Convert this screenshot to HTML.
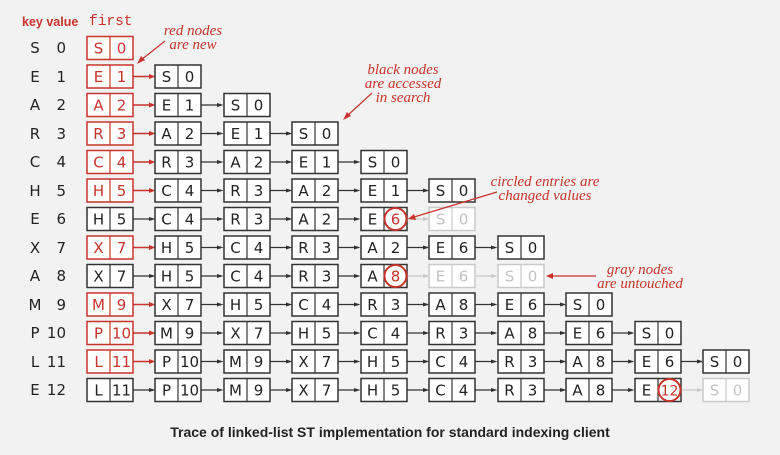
<!DOCTYPE html>
<html><head><meta charset="utf-8"><style>
html,body{margin:0;padding:0;background:#f2f2f2}
svg{display:block}
text{font-family:"DejaVu Sans","Liberation Sans",sans-serif;font-size:15px}
.n rect{fill:#fff;stroke:#333;stroke-width:1.5}
.n line{stroke:#333;stroke-width:1.2}
.n text{fill:#222;text-anchor:middle}
.r rect,.r line{stroke:#c8332b}
.r text{fill:#c8332b}
.g rect,.g line{stroke:#c9c9c9}
.g text{fill:#c2c2c2}
.ab{stroke:#333;stroke-width:1.3}.ab+polygon{fill:#333}
.ar{stroke:#c8332b;stroke-width:1.5}.ar+polygon{fill:#c8332b}
.ag{stroke:#c9c9c9;stroke-width:1.3}.ag+polygon{fill:#c9c9c9}
.lab{fill:#222}
.ann{font-family:"Liberation Serif",serif;font-style:italic;fill:#c8332b;font-size:15px;text-anchor:middle}
</style></head><body>
<svg width="780" height="455" viewBox="0 0 780 455">
<defs>
<g id="ab"><line class="ab" x1="46" y1="11.5" x2="63" y2="11.5"/><polygon points="68.5,11.5 62,9.5 62,13.5"/></g>
<g id="ar"><line class="ar" x1="46" y1="11.5" x2="63" y2="11.5"/><polygon points="68.5,11.5 62,9 62,14"/></g>
<g id="ag"><line class="ag" x1="46" y1="11.5" x2="63" y2="11.5"/><polygon points="68.5,11.5 62,9.5 62,13.5"/></g>
</defs>
<text x="22" y="26" style="font-family:'Liberation Sans',sans-serif;font-weight:bold;font-size:12.5px;fill:#c8332b">key value</text>
<text x="89" y="25" style="font-family:'Liberation Mono',monospace;font-size:14.5px;fill:#c8332b">first</text>

<g class="lab">
<text x="35" y="53" text-anchor="middle">S</text><text x="66" y="53" text-anchor="end">0</text>
<text x="35" y="82" text-anchor="middle">E</text><text x="66" y="82" text-anchor="end">1</text>
<text x="35" y="110" text-anchor="middle">A</text><text x="66" y="110" text-anchor="end">2</text>
<text x="35" y="139" text-anchor="middle">R</text><text x="66" y="139" text-anchor="end">3</text>
<text x="35" y="167" text-anchor="middle">C</text><text x="66" y="167" text-anchor="end">4</text>
<text x="35" y="196" text-anchor="middle">H</text><text x="66" y="196" text-anchor="end">5</text>
<text x="35" y="224" text-anchor="middle">E</text><text x="66" y="224" text-anchor="end">6</text>
<text x="35" y="253" text-anchor="middle">X</text><text x="66" y="253" text-anchor="end">7</text>
<text x="35" y="281" text-anchor="middle">A</text><text x="66" y="281" text-anchor="end">8</text>
<text x="35" y="310" text-anchor="middle">M</text><text x="66" y="310" text-anchor="end">9</text>
<text x="35" y="338" text-anchor="middle">P</text><text x="66" y="338" text-anchor="end">10</text>
<text x="35" y="367" text-anchor="middle">L</text><text x="66" y="367" text-anchor="end">11</text>
<text x="35" y="395" text-anchor="middle">E</text><text x="66" y="395" text-anchor="end">12</text>
</g>

<!-- row 0 -->
<g class="n r" transform="translate(87,36.5)"><rect width="46" height="23"/><line x1="23" y1="0" x2="23" y2="23"/><text x="11.5" y="17">S</text><text x="34.5" y="17">0</text></g>
<!-- row 1 -->
<g transform="translate(87,65)"><use href="#ar"/></g>
<g class="n r" transform="translate(87,65)"><rect width="46" height="23"/><line x1="23" y1="0" x2="23" y2="23"/><text x="11.5" y="17">E</text><text x="34.5" y="17">1</text></g>
<g class="n" transform="translate(155,65)"><rect width="46" height="23"/><line x1="23" y1="0" x2="23" y2="23"/><text x="11.5" y="17">S</text><text x="34.5" y="17">0</text></g>
<!-- row 2 -->
<g transform="translate(87,93.5)"><use href="#ar"/></g><g transform="translate(155,93.5)"><use href="#ab"/></g>
<g class="n r" transform="translate(87,93.5)"><rect width="46" height="23"/><line x1="23" y1="0" x2="23" y2="23"/><text x="11.5" y="17">A</text><text x="34.5" y="17">2</text></g>
<g class="n" transform="translate(155,93.5)"><rect width="46" height="23"/><line x1="23" y1="0" x2="23" y2="23"/><text x="11.5" y="17">E</text><text x="34.5" y="17">1</text></g>
<g class="n" transform="translate(224,93.5)"><rect width="46" height="23"/><line x1="23" y1="0" x2="23" y2="23"/><text x="11.5" y="17">S</text><text x="34.5" y="17">0</text></g>
<!-- row 3 -->
<g transform="translate(87,122)"><use href="#ar"/></g><g transform="translate(155,122)"><use href="#ab"/></g><g transform="translate(224,122)"><use href="#ab"/></g>
<g class="n r" transform="translate(87,122)"><rect width="46" height="23"/><line x1="23" y1="0" x2="23" y2="23"/><text x="11.5" y="17">R</text><text x="34.5" y="17">3</text></g>
<g class="n" transform="translate(155,122)"><rect width="46" height="23"/><line x1="23" y1="0" x2="23" y2="23"/><text x="11.5" y="17">A</text><text x="34.5" y="17">2</text></g>
<g class="n" transform="translate(224,122)"><rect width="46" height="23"/><line x1="23" y1="0" x2="23" y2="23"/><text x="11.5" y="17">E</text><text x="34.5" y="17">1</text></g>
<g class="n" transform="translate(292,122)"><rect width="46" height="23"/><line x1="23" y1="0" x2="23" y2="23"/><text x="11.5" y="17">S</text><text x="34.5" y="17">0</text></g>
<!-- row 4 -->
<g transform="translate(87,150.5)"><use href="#ar"/></g><g transform="translate(155,150.5)"><use href="#ab"/></g><g transform="translate(224,150.5)"><use href="#ab"/></g><g transform="translate(292,150.5)"><use href="#ab"/></g>
<g class="n r" transform="translate(87,150.5)"><rect width="46" height="23"/><line x1="23" y1="0" x2="23" y2="23"/><text x="11.5" y="17">C</text><text x="34.5" y="17">4</text></g>
<g class="n" transform="translate(155,150.5)"><rect width="46" height="23"/><line x1="23" y1="0" x2="23" y2="23"/><text x="11.5" y="17">R</text><text x="34.5" y="17">3</text></g>
<g class="n" transform="translate(224,150.5)"><rect width="46" height="23"/><line x1="23" y1="0" x2="23" y2="23"/><text x="11.5" y="17">A</text><text x="34.5" y="17">2</text></g>
<g class="n" transform="translate(292,150.5)"><rect width="46" height="23"/><line x1="23" y1="0" x2="23" y2="23"/><text x="11.5" y="17">E</text><text x="34.5" y="17">1</text></g>
<g class="n" transform="translate(361,150.5)"><rect width="46" height="23"/><line x1="23" y1="0" x2="23" y2="23"/><text x="11.5" y="17">S</text><text x="34.5" y="17">0</text></g>
<!-- row 5 -->
<g transform="translate(87,179)"><use href="#ar"/></g><g transform="translate(155,179)"><use href="#ab"/></g><g transform="translate(224,179)"><use href="#ab"/></g><g transform="translate(292,179)"><use href="#ab"/></g><g transform="translate(361,179)"><use href="#ab"/></g>
<g class="n r" transform="translate(87,179)"><rect width="46" height="23"/><line x1="23" y1="0" x2="23" y2="23"/><text x="11.5" y="17">H</text><text x="34.5" y="17">5</text></g>
<g class="n" transform="translate(155,179)"><rect width="46" height="23"/><line x1="23" y1="0" x2="23" y2="23"/><text x="11.5" y="17">C</text><text x="34.5" y="17">4</text></g>
<g class="n" transform="translate(224,179)"><rect width="46" height="23"/><line x1="23" y1="0" x2="23" y2="23"/><text x="11.5" y="17">R</text><text x="34.5" y="17">3</text></g>
<g class="n" transform="translate(292,179)"><rect width="46" height="23"/><line x1="23" y1="0" x2="23" y2="23"/><text x="11.5" y="17">A</text><text x="34.5" y="17">2</text></g>
<g class="n" transform="translate(361,179)"><rect width="46" height="23"/><line x1="23" y1="0" x2="23" y2="23"/><text x="11.5" y="17">E</text><text x="34.5" y="17">1</text></g>
<g class="n" transform="translate(429,179)"><rect width="46" height="23"/><line x1="23" y1="0" x2="23" y2="23"/><text x="11.5" y="17">S</text><text x="34.5" y="17">0</text></g>
<!-- row 6 -->
<g transform="translate(87,207.5)"><use href="#ab"/></g><g transform="translate(155,207.5)"><use href="#ab"/></g><g transform="translate(224,207.5)"><use href="#ab"/></g><g transform="translate(292,207.5)"><use href="#ab"/></g><g transform="translate(361,207.5)"><use href="#ag"/></g>
<g class="n" transform="translate(87,207.5)"><rect width="46" height="23"/><line x1="23" y1="0" x2="23" y2="23"/><text x="11.5" y="17">H</text><text x="34.5" y="17">5</text></g>
<g class="n" transform="translate(155,207.5)"><rect width="46" height="23"/><line x1="23" y1="0" x2="23" y2="23"/><text x="11.5" y="17">C</text><text x="34.5" y="17">4</text></g>
<g class="n" transform="translate(224,207.5)"><rect width="46" height="23"/><line x1="23" y1="0" x2="23" y2="23"/><text x="11.5" y="17">R</text><text x="34.5" y="17">3</text></g>
<g class="n" transform="translate(292,207.5)"><rect width="46" height="23"/><line x1="23" y1="0" x2="23" y2="23"/><text x="11.5" y="17">A</text><text x="34.5" y="17">2</text></g>
<g class="n" transform="translate(361,207.5)"><rect width="46" height="23"/><line x1="23" y1="0" x2="23" y2="23"/><text x="11.5" y="17">E</text><circle cx="34.5" cy="11.5" r="11" fill="#fff" stroke="#c8332b" stroke-width="2"/><text x="34.5" y="17" style="fill:#c8332b">6</text></g>
<g class="n g" transform="translate(429,207.5)"><rect width="46" height="23"/><line x1="23" y1="0" x2="23" y2="23"/><text x="11.5" y="17">S</text><text x="34.5" y="17">0</text></g>
<!-- row 7 -->
<g transform="translate(87,236)"><use href="#ar"/></g><g transform="translate(155,236)"><use href="#ab"/></g><g transform="translate(224,236)"><use href="#ab"/></g><g transform="translate(292,236)"><use href="#ab"/></g><g transform="translate(361,236)"><use href="#ab"/></g><g transform="translate(429,236)"><use href="#ab"/></g>
<g class="n r" transform="translate(87,236)"><rect width="46" height="23"/><line x1="23" y1="0" x2="23" y2="23"/><text x="11.5" y="17">X</text><text x="34.5" y="17">7</text></g>
<g class="n" transform="translate(155,236)"><rect width="46" height="23"/><line x1="23" y1="0" x2="23" y2="23"/><text x="11.5" y="17">H</text><text x="34.5" y="17">5</text></g>
<g class="n" transform="translate(224,236)"><rect width="46" height="23"/><line x1="23" y1="0" x2="23" y2="23"/><text x="11.5" y="17">C</text><text x="34.5" y="17">4</text></g>
<g class="n" transform="translate(292,236)"><rect width="46" height="23"/><line x1="23" y1="0" x2="23" y2="23"/><text x="11.5" y="17">R</text><text x="34.5" y="17">3</text></g>
<g class="n" transform="translate(361,236)"><rect width="46" height="23"/><line x1="23" y1="0" x2="23" y2="23"/><text x="11.5" y="17">A</text><text x="34.5" y="17">2</text></g>
<g class="n" transform="translate(429,236)"><rect width="46" height="23"/><line x1="23" y1="0" x2="23" y2="23"/><text x="11.5" y="17">E</text><text x="34.5" y="17">6</text></g>
<g class="n" transform="translate(498,236)"><rect width="46" height="23"/><line x1="23" y1="0" x2="23" y2="23"/><text x="11.5" y="17">S</text><text x="34.5" y="17">0</text></g>
<!-- row 8 -->
<g transform="translate(87,264.5)"><use href="#ab"/></g><g transform="translate(155,264.5)"><use href="#ab"/></g><g transform="translate(224,264.5)"><use href="#ab"/></g><g transform="translate(292,264.5)"><use href="#ab"/></g><g transform="translate(361,264.5)"><use href="#ag"/></g><g transform="translate(429,264.5)"><use href="#ag"/></g>
<g class="n" transform="translate(87,264.5)"><rect width="46" height="23"/><line x1="23" y1="0" x2="23" y2="23"/><text x="11.5" y="17">X</text><text x="34.5" y="17">7</text></g>
<g class="n" transform="translate(155,264.5)"><rect width="46" height="23"/><line x1="23" y1="0" x2="23" y2="23"/><text x="11.5" y="17">H</text><text x="34.5" y="17">5</text></g>
<g class="n" transform="translate(224,264.5)"><rect width="46" height="23"/><line x1="23" y1="0" x2="23" y2="23"/><text x="11.5" y="17">C</text><text x="34.5" y="17">4</text></g>
<g class="n" transform="translate(292,264.5)"><rect width="46" height="23"/><line x1="23" y1="0" x2="23" y2="23"/><text x="11.5" y="17">R</text><text x="34.5" y="17">3</text></g>
<g class="n" transform="translate(361,264.5)"><rect width="46" height="23"/><line x1="23" y1="0" x2="23" y2="23"/><text x="11.5" y="17">A</text><circle cx="34.5" cy="11.5" r="11" fill="#fff" stroke="#c8332b" stroke-width="2"/><text x="34.5" y="17" style="fill:#c8332b">8</text></g>
<g class="n g" transform="translate(429,264.5)"><rect width="46" height="23"/><line x1="23" y1="0" x2="23" y2="23"/><text x="11.5" y="17">E</text><text x="34.5" y="17">6</text></g>
<g class="n g" transform="translate(498,264.5)"><rect width="46" height="23"/><line x1="23" y1="0" x2="23" y2="23"/><text x="11.5" y="17">S</text><text x="34.5" y="17">0</text></g>
<!-- row 9 -->
<g transform="translate(87,293)"><use href="#ar"/></g><g transform="translate(155,293)"><use href="#ab"/></g><g transform="translate(224,293)"><use href="#ab"/></g><g transform="translate(292,293)"><use href="#ab"/></g><g transform="translate(361,293)"><use href="#ab"/></g><g transform="translate(429,293)"><use href="#ab"/></g><g transform="translate(498,293)"><use href="#ab"/></g>
<g class="n r" transform="translate(87,293)"><rect width="46" height="23"/><line x1="23" y1="0" x2="23" y2="23"/><text x="11.5" y="17">M</text><text x="34.5" y="17">9</text></g>
<g class="n" transform="translate(155,293)"><rect width="46" height="23"/><line x1="23" y1="0" x2="23" y2="23"/><text x="11.5" y="17">X</text><text x="34.5" y="17">7</text></g>
<g class="n" transform="translate(224,293)"><rect width="46" height="23"/><line x1="23" y1="0" x2="23" y2="23"/><text x="11.5" y="17">H</text><text x="34.5" y="17">5</text></g>
<g class="n" transform="translate(292,293)"><rect width="46" height="23"/><line x1="23" y1="0" x2="23" y2="23"/><text x="11.5" y="17">C</text><text x="34.5" y="17">4</text></g>
<g class="n" transform="translate(361,293)"><rect width="46" height="23"/><line x1="23" y1="0" x2="23" y2="23"/><text x="11.5" y="17">R</text><text x="34.5" y="17">3</text></g>
<g class="n" transform="translate(429,293)"><rect width="46" height="23"/><line x1="23" y1="0" x2="23" y2="23"/><text x="11.5" y="17">A</text><text x="34.5" y="17">8</text></g>
<g class="n" transform="translate(498,293)"><rect width="46" height="23"/><line x1="23" y1="0" x2="23" y2="23"/><text x="11.5" y="17">E</text><text x="34.5" y="17">6</text></g>
<g class="n" transform="translate(566,293)"><rect width="46" height="23"/><line x1="23" y1="0" x2="23" y2="23"/><text x="11.5" y="17">S</text><text x="34.5" y="17">0</text></g>
<!-- row 10 -->
<g transform="translate(87,321.5)"><use href="#ar"/></g><g transform="translate(155,321.5)"><use href="#ab"/></g><g transform="translate(224,321.5)"><use href="#ab"/></g><g transform="translate(292,321.5)"><use href="#ab"/></g><g transform="translate(361,321.5)"><use href="#ab"/></g><g transform="translate(429,321.5)"><use href="#ab"/></g><g transform="translate(498,321.5)"><use href="#ab"/></g><g transform="translate(566,321.5)"><use href="#ab"/></g>
<g class="n r" transform="translate(87,321.5)"><rect width="46" height="23"/><line x1="23" y1="0" x2="23" y2="23"/><text x="11.5" y="17">P</text><text x="34.5" y="17">10</text></g>
<g class="n" transform="translate(155,321.5)"><rect width="46" height="23"/><line x1="23" y1="0" x2="23" y2="23"/><text x="11.5" y="17">M</text><text x="34.5" y="17">9</text></g>
<g class="n" transform="translate(224,321.5)"><rect width="46" height="23"/><line x1="23" y1="0" x2="23" y2="23"/><text x="11.5" y="17">X</text><text x="34.5" y="17">7</text></g>
<g class="n" transform="translate(292,321.5)"><rect width="46" height="23"/><line x1="23" y1="0" x2="23" y2="23"/><text x="11.5" y="17">H</text><text x="34.5" y="17">5</text></g>
<g class="n" transform="translate(361,321.5)"><rect width="46" height="23"/><line x1="23" y1="0" x2="23" y2="23"/><text x="11.5" y="17">C</text><text x="34.5" y="17">4</text></g>
<g class="n" transform="translate(429,321.5)"><rect width="46" height="23"/><line x1="23" y1="0" x2="23" y2="23"/><text x="11.5" y="17">R</text><text x="34.5" y="17">3</text></g>
<g class="n" transform="translate(498,321.5)"><rect width="46" height="23"/><line x1="23" y1="0" x2="23" y2="23"/><text x="11.5" y="17">A</text><text x="34.5" y="17">8</text></g>
<g class="n" transform="translate(566,321.5)"><rect width="46" height="23"/><line x1="23" y1="0" x2="23" y2="23"/><text x="11.5" y="17">E</text><text x="34.5" y="17">6</text></g>
<g class="n" transform="translate(635,321.5)"><rect width="46" height="23"/><line x1="23" y1="0" x2="23" y2="23"/><text x="11.5" y="17">S</text><text x="34.5" y="17">0</text></g>
<!-- row 11 -->
<g transform="translate(87,350)"><use href="#ar"/></g><g transform="translate(155,350)"><use href="#ab"/></g><g transform="translate(224,350)"><use href="#ab"/></g><g transform="translate(292,350)"><use href="#ab"/></g><g transform="translate(361,350)"><use href="#ab"/></g><g transform="translate(429,350)"><use href="#ab"/></g><g transform="translate(498,350)"><use href="#ab"/></g><g transform="translate(566,350)"><use href="#ab"/></g><g transform="translate(635,350)"><use href="#ab"/></g>
<g class="n r" transform="translate(87,350)"><rect width="46" height="23"/><line x1="23" y1="0" x2="23" y2="23"/><text x="11.5" y="17">L</text><text x="34.5" y="17">11</text></g>
<g class="n" transform="translate(155,350)"><rect width="46" height="23"/><line x1="23" y1="0" x2="23" y2="23"/><text x="11.5" y="17">P</text><text x="34.5" y="17">10</text></g>
<g class="n" transform="translate(224,350)"><rect width="46" height="23"/><line x1="23" y1="0" x2="23" y2="23"/><text x="11.5" y="17">M</text><text x="34.5" y="17">9</text></g>
<g class="n" transform="translate(292,350)"><rect width="46" height="23"/><line x1="23" y1="0" x2="23" y2="23"/><text x="11.5" y="17">X</text><text x="34.5" y="17">7</text></g>
<g class="n" transform="translate(361,350)"><rect width="46" height="23"/><line x1="23" y1="0" x2="23" y2="23"/><text x="11.5" y="17">H</text><text x="34.5" y="17">5</text></g>
<g class="n" transform="translate(429,350)"><rect width="46" height="23"/><line x1="23" y1="0" x2="23" y2="23"/><text x="11.5" y="17">C</text><text x="34.5" y="17">4</text></g>
<g class="n" transform="translate(498,350)"><rect width="46" height="23"/><line x1="23" y1="0" x2="23" y2="23"/><text x="11.5" y="17">R</text><text x="34.5" y="17">3</text></g>
<g class="n" transform="translate(566,350)"><rect width="46" height="23"/><line x1="23" y1="0" x2="23" y2="23"/><text x="11.5" y="17">A</text><text x="34.5" y="17">8</text></g>
<g class="n" transform="translate(635,350)"><rect width="46" height="23"/><line x1="23" y1="0" x2="23" y2="23"/><text x="11.5" y="17">E</text><text x="34.5" y="17">6</text></g>
<g class="n" transform="translate(703,350)"><rect width="46" height="23"/><line x1="23" y1="0" x2="23" y2="23"/><text x="11.5" y="17">S</text><text x="34.5" y="17">0</text></g>
<!-- row 12 -->
<g transform="translate(87,378.5)"><use href="#ab"/></g><g transform="translate(155,378.5)"><use href="#ab"/></g><g transform="translate(224,378.5)"><use href="#ab"/></g><g transform="translate(292,378.5)"><use href="#ab"/></g><g transform="translate(361,378.5)"><use href="#ab"/></g><g transform="translate(429,378.5)"><use href="#ab"/></g><g transform="translate(498,378.5)"><use href="#ab"/></g><g transform="translate(566,378.5)"><use href="#ab"/></g><g transform="translate(635,378.5)"><use href="#ag"/></g>
<g class="n" transform="translate(87,378.5)"><rect width="46" height="23"/><line x1="23" y1="0" x2="23" y2="23"/><text x="11.5" y="17">L</text><text x="34.5" y="17">11</text></g>
<g class="n" transform="translate(155,378.5)"><rect width="46" height="23"/><line x1="23" y1="0" x2="23" y2="23"/><text x="11.5" y="17">P</text><text x="34.5" y="17">10</text></g>
<g class="n" transform="translate(224,378.5)"><rect width="46" height="23"/><line x1="23" y1="0" x2="23" y2="23"/><text x="11.5" y="17">M</text><text x="34.5" y="17">9</text></g>
<g class="n" transform="translate(292,378.5)"><rect width="46" height="23"/><line x1="23" y1="0" x2="23" y2="23"/><text x="11.5" y="17">X</text><text x="34.5" y="17">7</text></g>
<g class="n" transform="translate(361,378.5)"><rect width="46" height="23"/><line x1="23" y1="0" x2="23" y2="23"/><text x="11.5" y="17">H</text><text x="34.5" y="17">5</text></g>
<g class="n" transform="translate(429,378.5)"><rect width="46" height="23"/><line x1="23" y1="0" x2="23" y2="23"/><text x="11.5" y="17">C</text><text x="34.5" y="17">4</text></g>
<g class="n" transform="translate(498,378.5)"><rect width="46" height="23"/><line x1="23" y1="0" x2="23" y2="23"/><text x="11.5" y="17">R</text><text x="34.5" y="17">3</text></g>
<g class="n" transform="translate(566,378.5)"><rect width="46" height="23"/><line x1="23" y1="0" x2="23" y2="23"/><text x="11.5" y="17">A</text><text x="34.5" y="17">8</text></g>
<g class="n" transform="translate(635,378.5)"><rect width="46" height="23"/><line x1="23" y1="0" x2="23" y2="23"/><text x="11.5" y="17">E</text><circle cx="34.5" cy="11.5" r="11" fill="#fff" stroke="#c8332b" stroke-width="2"/><text x="34.5" y="17" style="fill:#c8332b;font-size:14px">12</text></g>
<g class="n g" transform="translate(703,378.5)"><rect width="46" height="23"/><line x1="23" y1="0" x2="23" y2="23"/><text x="11.5" y="17">S</text><text x="34.5" y="17">0</text></g>

<!-- annotations -->
<text class="ann" x="193" y="35">red nodes</text>
<text class="ann" x="193" y="49">are new</text>
<line x1="165" y1="41" x2="141" y2="60" stroke="#c8332b" stroke-width="1.2"/><polygon points="137,64 141,56 145,60" fill="#c8332b"/>
<text class="ann" x="403" y="74">black nodes</text>
<text class="ann" x="403" y="88">are accessed</text>
<text class="ann" x="403" y="102">in search</text>
<line x1="372" y1="93" x2="347" y2="116" stroke="#c8332b" stroke-width="1.2"/><polygon points="343,120 347,112 351,116" fill="#c8332b"/>
<text class="ann" x="545" y="186">circled entries are</text>
<text class="ann" x="545" y="200">changed values</text>
<line x1="497" y1="192" x2="414" y2="217" stroke="#c8332b" stroke-width="1.2"/><polygon points="408,219 414,214 416,220" fill="#c8332b"/>
<text class="ann" x="640" y="274">gray nodes</text>
<text class="ann" x="640" y="288">are untouched</text>
<line x1="596" y1="276" x2="552" y2="276" stroke="#c8332b" stroke-width="1.2"/><polygon points="546,276 553,273 553,279" fill="#c8332b"/>

<text x="390" y="437" text-anchor="middle" style="font-family:'Liberation Sans',sans-serif;font-weight:bold;font-size:14px;fill:#222">Trace of linked-list ST implementation for standard indexing client</text>
</svg>
</body></html>
